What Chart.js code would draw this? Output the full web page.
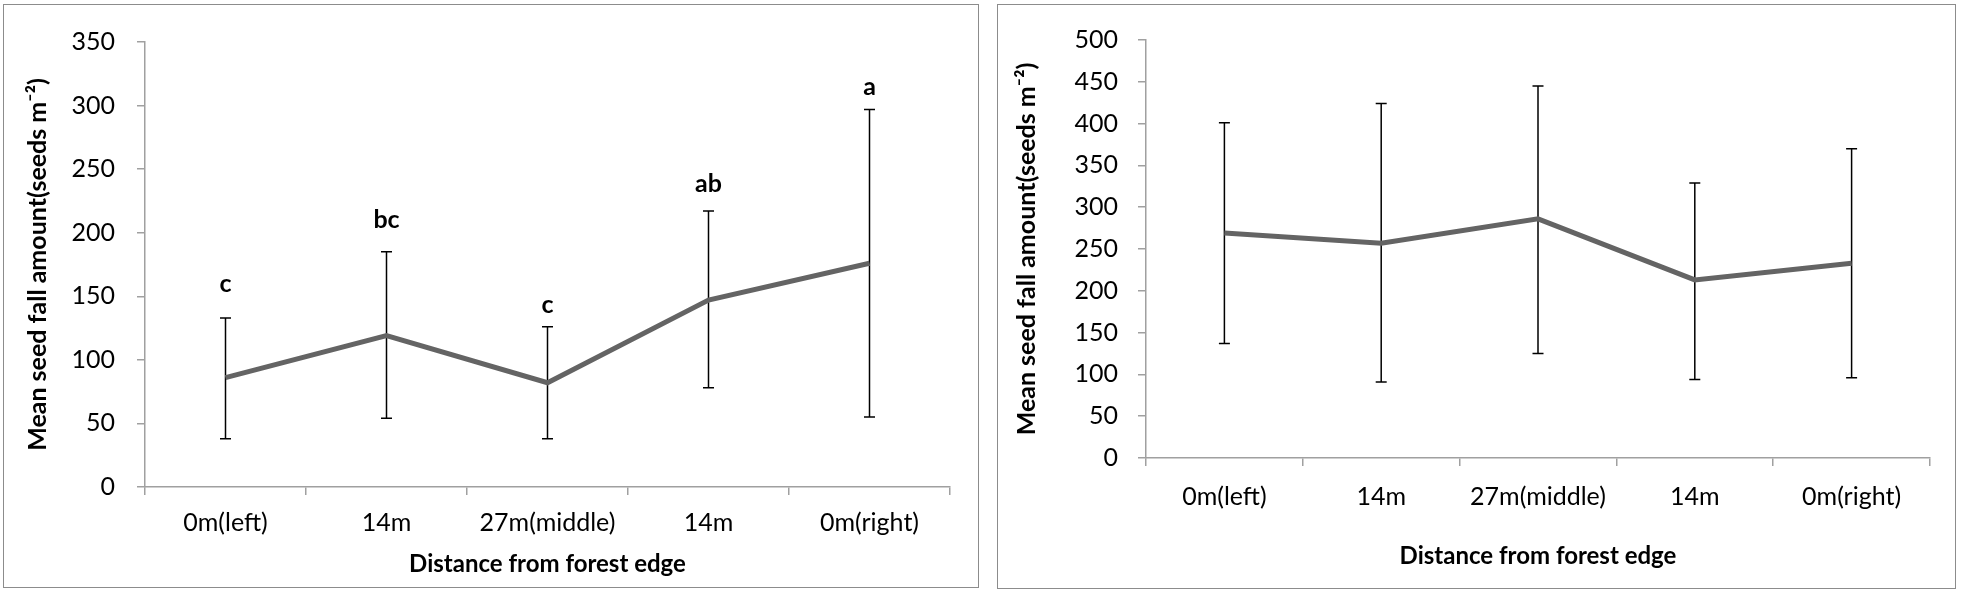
<!DOCTYPE html>
<html>
<head>
<meta charset="utf-8">
<script src="https://cdn.jsdelivr.net/npm/chart.js@4"></script>
<style>
  body { margin: 0; background: #ffffff; }
  .panel { position: absolute; box-sizing: border-box; border: 1px solid #8c8c8c; background: #fff; }
  #leftBox { left: 3px; top: 4px; width: 976px; height: 584px; }
  #rightBox { left: 997px; top: 4px; width: 959px; height: 585px; }
</style>
</head>
<body>
<div class="panel" id="leftBox"><canvas id="chart1"></canvas></div>
<div class="panel" id="rightBox"><canvas id="chart2"></canvas></div>
<script>
// categories shared by both panels
const categories = ["0m(left)", "14m", "27m(middle)", "14m", "0m(right)"];

// left panel: mean, error bar ends, significance letters
const leftMeans = [86, 119, 82, 147, 176];
const leftUpper = [133, 185, 126, 217, 297];
const leftLower = [38, 54, 38, 78, 55];
const leftLetters = ["c", "bc", "c", "ab", "a"];
const leftLetterY = [153, 204, 137, 232, 308];
const leftTicks = [0, 50, 100, 150, 200, 250, 300, 350];

// right panel
const rightMeans = [269, 257, 286, 213, 233];
const rightUpper = [401, 424, 445, 329, 370];
const rightLower = [137, 91, 125, 94, 96];
const rightTicks = [0, 50, 100, 150, 200, 250, 300, 350, 400, 450, 500];

const FONT = "Lato, 'Open Sans', sans-serif";
const AXIS_GRAY = "#a0a0a0";

// error bars drawn under the line
const errorBars = {
  id: "errorBars",
  beforeDatasetsDraw(chart, args, opts) {
    const ctx = chart.ctx;
    const xs = chart.scales.x, ys = chart.scales.y;
    ctx.save();
    ctx.strokeStyle = "#000";
    ctx.lineWidth = 1.5;
    opts.upper.forEach((hi, i) => {
      const x = xs.getPixelForValue(i);
      const yHi = ys.getPixelForValue(hi);
      const yLo = ys.getPixelForValue(opts.lower[i]);
      ctx.beginPath();
      ctx.moveTo(x, yHi); ctx.lineTo(x, yLo);
      ctx.moveTo(x - 5.5, yHi); ctx.lineTo(x + 5.5, yHi);
      ctx.moveTo(x - 5.5, yLo); ctx.lineTo(x + 5.5, yLo);
      ctx.stroke();
    });
    ctx.restore();
  },
  afterDatasetsDraw(chart, args, opts) {
    if (!opts.letters) return;
    const ctx = chart.ctx;
    const xs = chart.scales.x, ys = chart.scales.y;
    ctx.save();
    ctx.fillStyle = "#000";
    ctx.font = "bold 25px " + FONT;
    ctx.textAlign = "center";
    ctx.textBaseline = "alphabetic";
    opts.letters.forEach((t, i) => {
      ctx.fillText(t, xs.getPixelForValue(i), ys.getPixelForValue(opts.letterY[i]));
    });
    ctx.restore();
  }
};

function makeConfig(means, upper, lower, letters, letterY, ticks, lay) {
  return {
    type: "line",
    data: {
      labels: categories,
      datasets: [{
        data: means,
        borderColor: "#646464",
        borderWidth: 5,
        pointRadius: 0,
        tension: 0,
        fill: false
      }]
    },
    options: {
      responsive: true,
      maintainAspectRatio: false,
      animation: false,
      layout: { padding: { left: 0, top: lay.top, right: lay.right, bottom: 0 } },
      plugins: {
        legend: { display: false },
        tooltip: { enabled: false },
        errorBars: { upper: upper, lower: lower, letters: letters, letterY: letterY }
      },
      scales: {
        x: {
          offset: true,
          grid: { offset: true, drawOnChartArea: false, drawTicks: true, tickLength: 8, color: AXIS_GRAY, lineWidth: 1.5 },
          border: { display: true, color: AXIS_GRAY, width: 1.5 },
          ticks: { color: "#000", font: { family: FONT, size: 25 }, padding: lay.xPad, maxRotation: 0, autoSkip: false },
          title: {
            display: true,
            text: "Distance from forest edge",
            color: "#000",
            font: { family: FONT, size: 24, weight: "bold" },
            padding: { top: 0, bottom: lay.xTitle }
          },
          afterFit(scale) { scale.height = lay.xHeight; }
        },
        y: {
          min: ticks[0],
          max: ticks[ticks.length - 1],
          afterBuildTicks(scale) { scale.ticks = ticks.map(v => ({ value: v })); },
          grid: { drawOnChartArea: false, drawTicks: true, tickLength: 8, color: AXIS_GRAY, lineWidth: 1.5 },
          border: { display: true, color: AXIS_GRAY, width: 1.5 },
          ticks: { color: "#000", font: { family: FONT, size: 25 }, padding: lay.yPad },
          title: {
            display: true,
            text: "Mean seed fall amount(seeds m\u207B\u00B2)",
            color: "#000",
            font: { family: FONT, size: 25, weight: "bold" },
            padding: { top: lay.yTitle, bottom: 0 }
          },
          afterFit(scale) { scale.width = lay.yWidth; }
        }
      }
    },
    plugins: [errorBars]
  };
}

const config1 = makeConfig(leftMeans, leftUpper, leftLower, leftLetters, leftLetterY, leftTicks,
  { top: 27, right: 28, xHeight: 100, yWidth: 141, xPad: 13, yPad: 22, xTitle: 8, yTitle: 19 });
const config2 = makeConfig(rightMeans, rightUpper, rightLower, null, null, rightTicks,
  { top: 29, right: 25, xHeight: 130, yWidth: 148, xPad: 16, yPad: 20, xTitle: 17, yTitle: 14 });

const leftChart = new Chart(document.getElementById("chart1"), config1);
const rightChart = new Chart(document.getElementById("chart2"), config2);
</script>
</body>
</html>
